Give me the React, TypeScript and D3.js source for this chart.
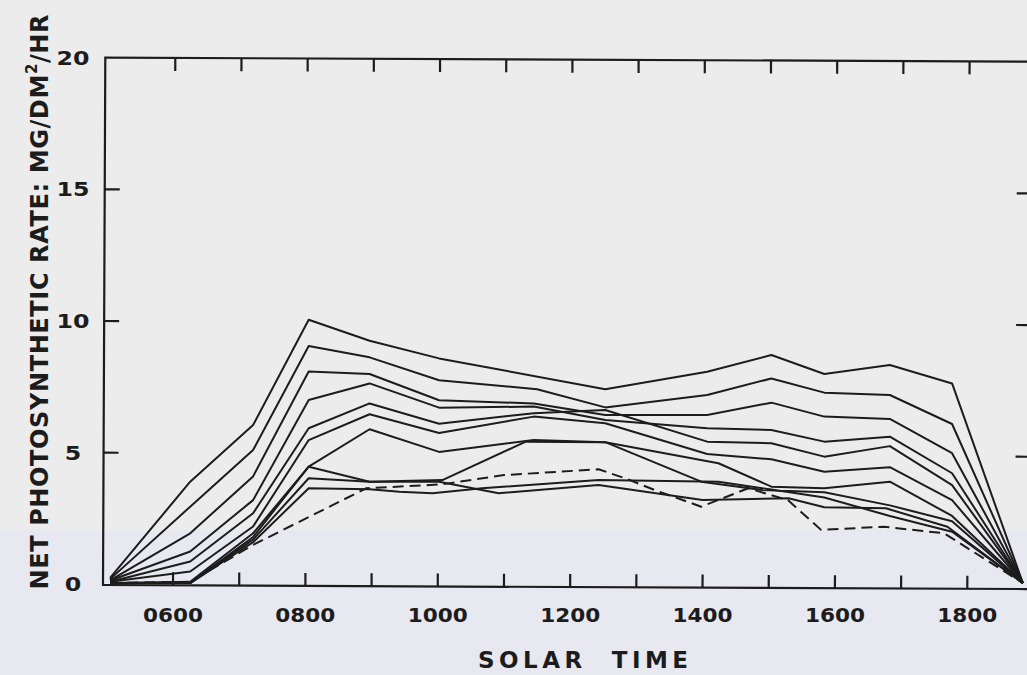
import React from "react";
import * as d3 from "d3";

// ---- data (solar time in hours, net photosynthetic rate mg/dm²/hr) ----
const seriesA: [number, number][] = [[5.05,0.25],[6.26,3.9],[7.21,6.05],[8.05,10.05],[8.97,9.25],[10.02,8.58],[12.53,7.41],[14.07,8.07],[15.04,8.71],[15.84,7.99],[16.83,8.33],[17.77,7.63],[18.84,0.05]];
const seriesB: [number, number][] = [[5.05,0.2],[6.26,2.95],[7.21,5.1],[8.05,9.05],[8.97,8.62],[10.02,7.75],[11.5,7.41],[12.53,6.72],[14.07,7.19],[15.04,7.82],[15.84,7.28],[16.83,7.19],[17.77,6.09],[18.84,0.05]];
const seriesC: [number, number][] = [[5.05,0.15],[6.26,1.94],[7.21,4.1],[8.05,8.08],[8.97,7.99],[10.02,6.99],[11.45,6.87],[12.53,6.43],[14.07,6.43],[15.04,6.9],[15.84,6.37],[16.83,6.28],[17.77,4.98],[18.84,0.05]];
const seriesD: [number, number][] = [[5.05,0.15],[6.26,1.25],[7.21,3.2],[8.05,7.0],[8.97,7.63],[10.02,6.71],[11.45,6.75],[12.53,6.24],[14.07,5.93],[15.04,5.86],[15.84,5.42],[16.83,5.61],[17.77,4.22],[18.84,0.05]];
const seriesE: [number, number][] = [[5.05,0.1],[6.26,0.87],[7.21,2.7],[8.05,5.93],[8.97,6.87],[10.02,6.1],[11.45,6.5],[12.53,6.62],[14.07,5.42],[15.04,5.36],[15.84,4.85],[16.83,5.25],[17.77,3.77],[18.84,0.05]];
const seriesF: [number, number][] = [[5.05,0.1],[6.26,0.49],[7.21,2.2],[8.05,5.48],[8.97,6.46],[10.02,5.75],[11.45,6.37],[12.53,6.12],[14.07,4.95],[15.04,4.75],[15.84,4.28],[16.83,4.45],[17.77,3.2],[18.84,0.05]];
const seriesG: [number, number][] = [[5.05,0.05],[6.26,0.1],[7.21,1.94],[8.05,4.47],[8.97,5.89],[10.02,5.03],[11.45,5.48],[12.53,5.4],[14.24,4.6],[15.04,3.71],[15.84,3.65],[16.83,3.9],[17.77,2.6],[18.84,0.05]];
const seriesH: [number, number][] = [[5.05,0.05],[6.26,0.05],[7.21,1.8],[8.05,4.47],[8.97,3.9],[10.07,3.96],[11.33,5.42],[12.53,5.4],[13.98,3.9],[14.9,3.58],[15.84,3.5],[16.83,3.0],[17.77,2.4],[18.84,0.05]];
const seriesI: [number, number][] = [[5.05,0.05],[6.26,0.05],[7.21,1.7],[8.05,4.03],[8.97,3.9],[10.02,3.9],[10.92,3.46],[12.43,3.77],[14.0,3.2],[15.3,3.27],[15.84,2.93],[16.77,2.89],[17.7,2.19],[18.84,0.05]];
const seriesJ: [number, number][] = [[5.05,0.05],[6.26,0.05],[7.21,1.6],[8.05,3.65],[8.97,3.61],[9.42,3.52],[9.92,3.46],[10.67,3.65],[12.43,3.96],[14.24,3.9],[15.04,3.6],[15.84,3.3],[16.83,2.6],[17.77,2.0],[18.84,0.05]];
const seriesDashed: [number, number][] = [[5.05,0.05],[6.26,0.1],[7.21,1.5],[8.92,3.65],[10.07,3.8],[11.0,4.15],[12.43,4.37],[12.83,4.03],[13.28,3.58],[13.98,2.95],[14.69,3.65],[15.29,3.2],[15.79,2.07],[16.74,2.19],[17.65,1.94],[18.84,0.05]];

const solidSeries = [seriesA, seriesB, seriesC, seriesD, seriesE, seriesF, seriesG, seriesH, seriesI, seriesJ];

const xTickHours = [6, 7, 8, 9, 10, 11, 12, 13, 14, 15, 16, 17, 18];
const xLabelHours = [6, 8, 10, 12, 14, 16, 18];
const xLabelTexts = ["0600", "0800", "1000", "1200", "1400", "1600", "1800"];
const yTickValues = [5, 10, 15];
const yLabelValues = [0, 5, 10, 15, 20];
const yLabelTexts = ["0", "5", "10", "15", "20"];

const W = 1027;
const H = 675;

const x = d3.scaleLinear().domain([6, 18]).range([173, 967.3]);
const y = d3.scaleLinear().domain([0, 20]).range([584.4, 57.6]);

const line = d3
  .line<[number, number]>()
  .x((d) => x(d[0]))
  .y((d) => y(d[1]));

const FONT = "'DejaVu Sans', 'Liberation Sans', sans-serif";
const INK = "#1c1c1c";

export default function App() {
  const left = 103;
  const right = 1033;
  const top = y(20);
  const bottom = 585;
  const tick = 15;
  return (
    <svg
      width={W}
      height={H}
      viewBox={`0 0 ${W} ${H}`}
      style={{ position: "absolute", left: 0, top: 0, display: "block" }}
    >
      <rect x={0} y={0} width={W} height={H} fill="#ececec" />
      <rect x={0} y={530} width={W} height={H - 530} fill="#e8e8f0" />

      {/* frame */}
      <g transform={`rotate(0.25, ${left}, ${bottom})`} stroke={INK} strokeWidth={2.2} fill="none">
        <rect x={left} y={top} width={right - left} height={bottom - top} />
        {xTickHours.map((h) => (
          <g key={`xt${h}`}>
            <line x1={x(h)} x2={x(h)} y1={bottom} y2={bottom - tick + 2} />
            <line x1={x(h)} x2={x(h)} y1={top} y2={top + tick - 2} />
          </g>
        ))}
        {yTickValues.map((v) => (
          <g key={`yt${v}`}>
            <line x1={left} x2={left + tick} y1={y(v)} y2={y(v)} />
            <line x1={right} x2={right - tick - 3} y1={y(v)} y2={y(v)} />
          </g>
        ))}
      </g>

      {/* data */}
      <g fill="none" stroke={INK} strokeWidth={2} strokeLinejoin="round">
        {solidSeries.map((s, i) => (
          <path key={i} d={line(s) || ""} />
        ))}
        <path d={line(seriesDashed) || ""} strokeDasharray="11,6" />
      </g>

      {/* tick labels */}
      <g fontFamily={FONT} fontWeight="bold" fontSize={19} fill={INK}>
        {xLabelHours.map((h, i) => (
          <text
            key={`xl${h}`}
            x={x(h) - 30}
            y={622}
            textLength={60}
            lengthAdjust="spacingAndGlyphs"
          >
            {xLabelTexts[i]}
          </text>
        ))}
        {yLabelValues.map((v, i) => {
          const w = yLabelTexts[i].length * 16.5;
          return (
            <text
              key={`yl${v}`}
              x={73 - w / 2}
              y={y(v) + 7}
              textLength={w}
              lengthAdjust="spacingAndGlyphs"
            >
              {yLabelTexts[i]}
            </text>
          );
        })}
      </g>

      {/* axis titles */}
      <text
        x={583}
        y={668}
        textAnchor="middle"
        fontFamily={FONT}
        fontWeight="bold"
        fontSize={23}
        fill={INK}
        textLength={210}
        lengthAdjust="spacing"
        style={{ whiteSpace: "pre" }}
      >
        SOLAR  TIME
      </text>
      <text
        transform="translate(48, 302) rotate(-90)"
        textAnchor="middle"
        fontFamily={FONT}
        fontWeight="bold"
        fontSize={24}
        fill={INK}
        textLength={575}
        lengthAdjust="spacing"
      >
        NET PHOTOSYNTHETIC RATE: MG/DM
        <tspan fontSize={15} dy={-11}>2</tspan>
        <tspan dy={11}>/HR</tspan>
      </text>
    </svg>
  );
}
